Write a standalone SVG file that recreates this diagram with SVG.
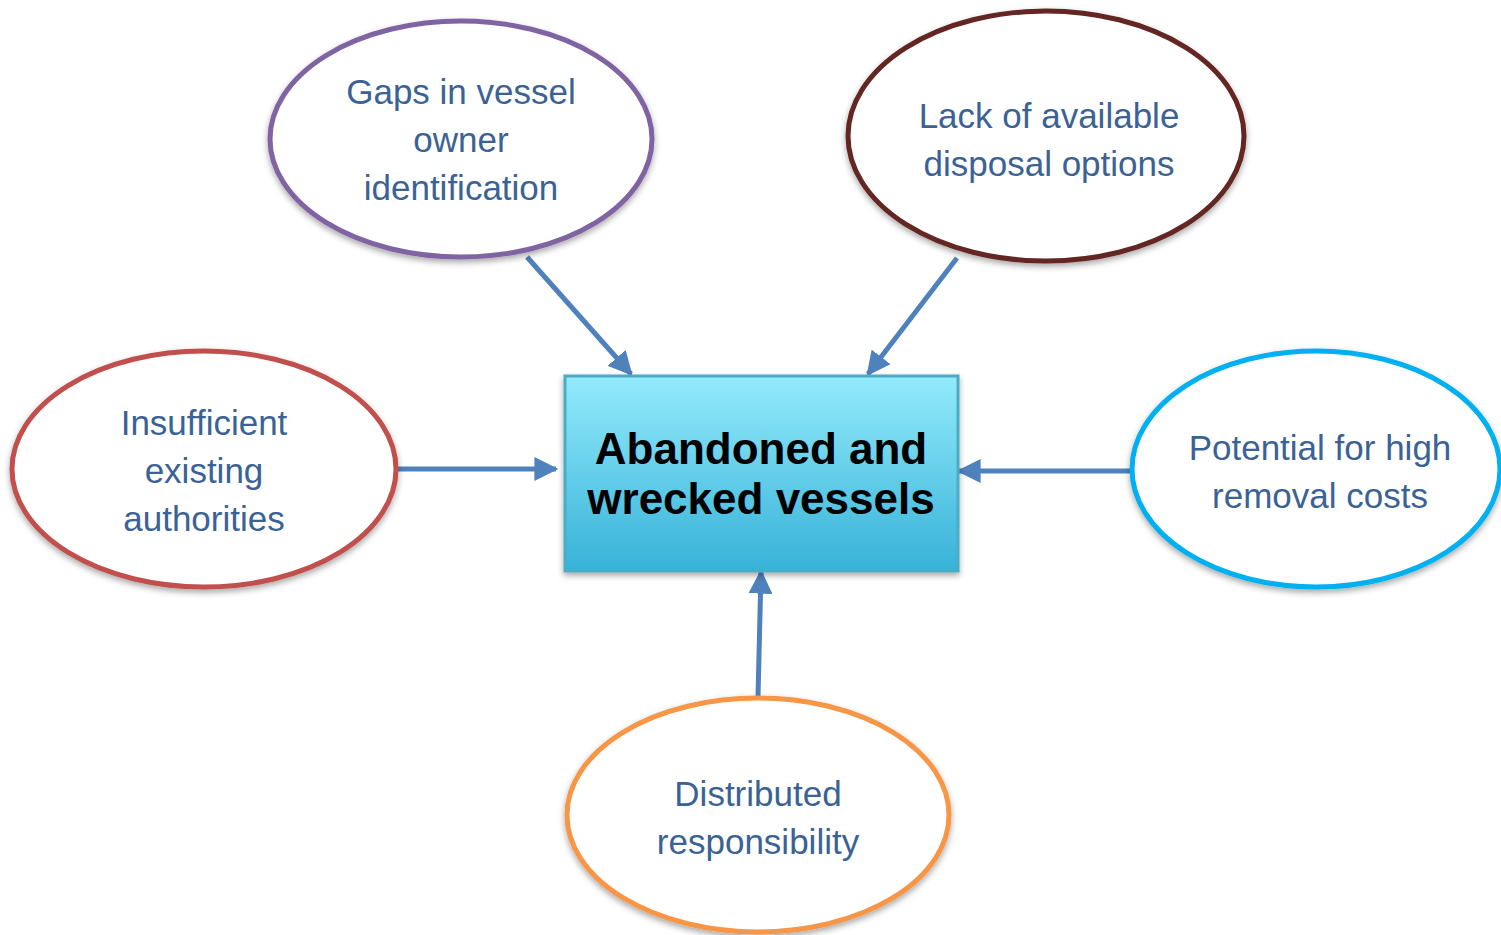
<svg xmlns="http://www.w3.org/2000/svg" width="1501" height="935" viewBox="0 0 1501 935">
<defs>
<style>
.el{fill:#fff;stroke-width:5;filter:url(#sh)}
.lbl{font-family:"Liberation Sans",Arial,sans-serif;font-size:35px;fill:#3B6295;text-anchor:middle}
.main{font-family:"Liberation Sans",Arial,sans-serif;font-size:44px;font-weight:bold;fill:#000;text-anchor:middle}
.con{stroke:#4F81BD;stroke-width:5;fill:none;marker-end:url(#ah)}
</style>
<filter id="sh" x="-10%" y="-10%" width="120%" height="125%">
<feDropShadow dx="0" dy="3" stdDeviation="3" flood-color="#000" flood-opacity="0.35"/>
</filter>
<linearGradient id="bg" x1="0" y1="0" x2="0" y2="1">
<stop offset="0" stop-color="#93EBFC"/>
<stop offset="1" stop-color="#37B2D8"/>
</linearGradient>
<marker id="ah" viewBox="0 0 10 10" refX="9" refY="5" markerWidth="4.8" markerHeight="4.8" orient="auto" markerUnits="strokeWidth">
<path d="M0,0 L10,5 L0,10 Z" fill="#4F81BD"/>
</marker>
</defs>
<rect width="1501" height="935" fill="#fff"/>
<g id="connectors">
<line class="con" x1="527" y1="257" x2="631" y2="374"/>
<line class="con" x1="957" y1="258" x2="868" y2="374"/>
<line class="con" x1="397" y1="469" x2="556" y2="469"/>
<line class="con" x1="1132" y1="471" x2="959" y2="471"/>
<line class="con" x1="758" y1="697" x2="761" y2="572"/>
</g>
<g id="center">
<rect x="565" y="376" width="393" height="195" fill="url(#bg)" stroke="#4BACC6" stroke-width="3" filter="url(#sh)"/>
<text class="main" x="761" y="464">Abandoned and</text>
<text class="main" x="761" y="514">wrecked vessels</text>
</g>
<g id="gaps">
<ellipse class="el" cx="461" cy="139" rx="191" ry="118" stroke="#8064A2"/>
<text class="lbl" x="461" y="104">Gaps in vessel</text>
<text class="lbl" x="461" y="152">owner</text>
<text class="lbl" x="461" y="200">identification</text>
</g>
<g id="lack">
<ellipse class="el" cx="1046" cy="136" rx="198" ry="125" stroke="#632523"/>
<text class="lbl" x="1049" y="128">Lack of available</text>
<text class="lbl" x="1049" y="176">disposal options</text>
</g>
<g id="insufficient">
<ellipse class="el" cx="204" cy="469" rx="192" ry="118" stroke="#C0504D"/>
<text class="lbl" x="204" y="435">Insufficient</text>
<text class="lbl" x="204" y="483">existing</text>
<text class="lbl" x="204" y="531">authorities</text>
</g>
<g id="potential">
<ellipse class="el" cx="1316" cy="469" rx="184" ry="118" stroke="#00B0F0"/>
<text class="lbl" x="1320" y="460">Potential for high</text>
<text class="lbl" x="1320" y="508">removal costs</text>
</g>
<g id="distributed">
<ellipse class="el" cx="758" cy="815" rx="191" ry="117" stroke="#F79646"/>
<text class="lbl" x="758" y="806">Distributed</text>
<text class="lbl" x="758" y="854">responsibility</text>
</g>
</svg>
